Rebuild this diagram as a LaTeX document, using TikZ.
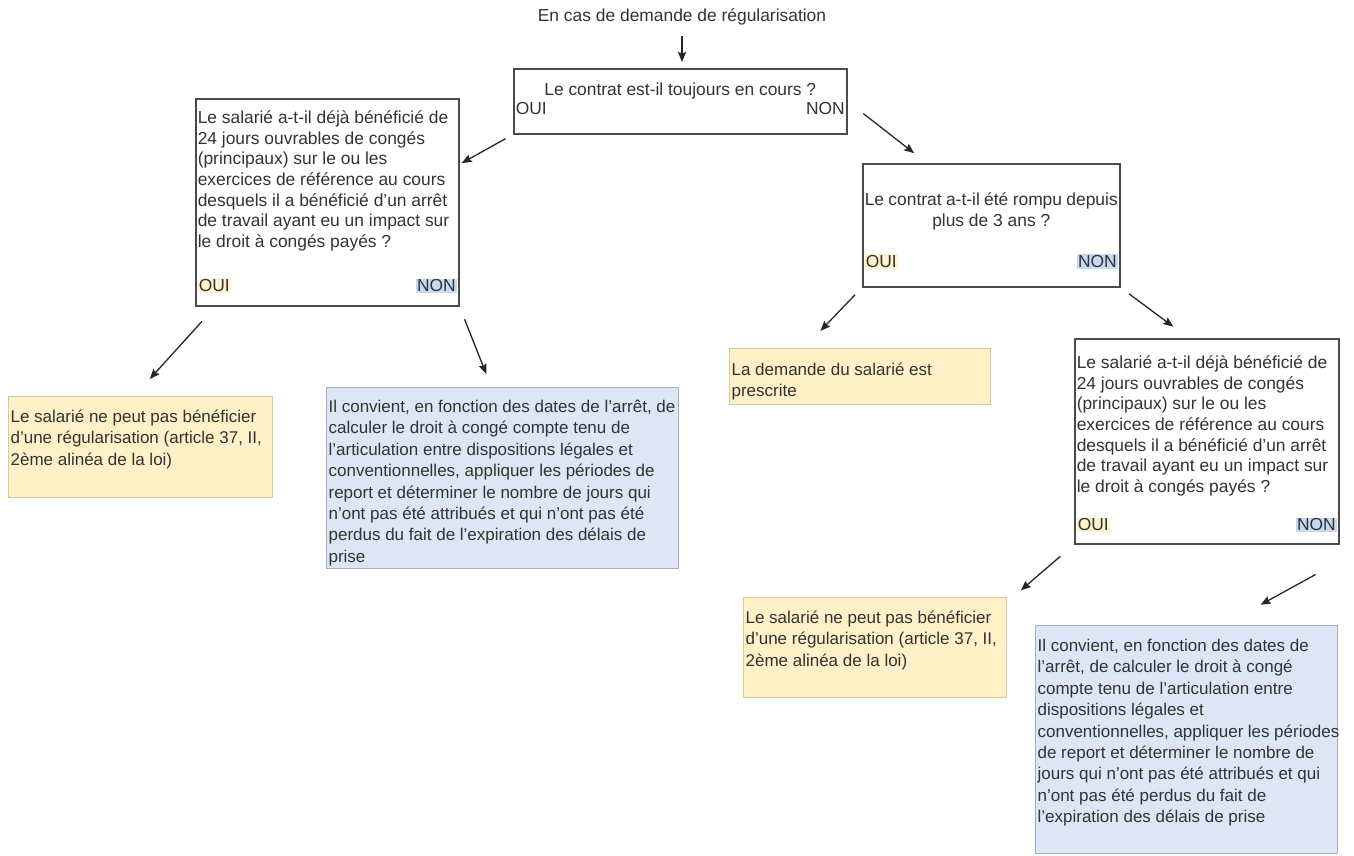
\documentclass[tikz,border=0pt]{standalone}
\usepackage{fontspec}
\setmainfont{Liberation Sans}
\usetikzlibrary{positioning,arrows.meta}

\definecolor{texte}{HTML}{333333}
\definecolor{trait}{HTML}{4A4A4A}
\definecolor{jaunefond}{HTML}{FFF0C8}
\definecolor{jaunebord}{HTML}{D8C99C}
\definecolor{bleufond}{HTML}{DCE6F4}
\definecolor{bleubord}{HTML}{A4AEBE}
\definecolor{ouifond}{HTML}{FFF2CC}
\definecolor{nonfond}{HTML}{C5D9F1}

\setlength{\fboxsep}{1pt}
\newcommand{\qfont}{\fontsize{17.4}{20.6}\selectfont}
\newcommand{\ifont}{\fontsize{17}{21.4}\selectfont}
\newcommand{\oui}{\colorbox{ouifond}{OUI}}
\newcommand{\non}{\colorbox{nonfond}{NON}}
\newcommand{\ouinon}[2]{\makebox[\linewidth]{#1\hfill#2}}
\newcommand{\boite}[4]{\parbox[t][#2][t]{#1}{\raggedright
  \rightskip=0pt plus 1fil minus 30pt
  \hyphenpenalty=10000\exhyphenpenalty=10000\vspace*{#3}\strut#4}}

\begin{document}
\begin{tikzpicture}[x=1pt, y=-1pt,
    question/.style={draw=trait, line width=1.5pt, fill=white, anchor=north west,
      inner xsep=2pt, inner ysep=0pt, text=texte, font=\qfont},
    jaune/.style={question, draw=jaunebord, fill=jaunefond, line width=1.2pt, font=\ifont},
    bleu/.style={question, draw=bleubord, fill=bleufond, line width=1.2pt, font=\ifont},
    fleche/.style={-{Stealth[length=10pt, width=8pt, inset=1.5pt]}, line width=1.3pt,
      draw=black!85}]
  \useasboundingbox (0,0) rectangle (1354,855);

  % questions
  \node[text=texte, font=\qfont, inner sep=0pt] (titre) at (682,17)
    {En cas de demande de régularisation};
  \node[question] (contrat) at (513,68)
    {\boite{329pt}{65pt}{12.6pt}{{\centering Le contrat est-il toujours en cours~?\par}
      \vspace{-1.6pt}\ouinon{OUI}{NON}}};
  \node[question] (salarieA) at (195,98)
    {\boite{259pt}{207pt}{10.6pt}{Le salarié a-t-il déjà bénéficié de\\
      24 jours ouvrables de congés\\
      (principaux) sur le ou les\\
      exercices de référence au cours\\
      desquels il a bénéficié d'un arrêt\\
      de travail ayant eu un impact sur\\
      le droit à congés payés~?\par\vspace{24pt}\ouinon{\oui}{\non}}};
  \node[question] (rompu) at (862,163)
    {\boite{253pt}{123pt}{27.6pt}{{\centering Le contrat a-t-il été rompu depuis\\
      plus de 3 ans~?\par}\vspace{20.6pt}\ouinon{\oui}{\non}}};
  \node[question] (salarieB) at (1074,338)
    {\boite{260pt}{205pt}{15.6pt}{Le salarié a-t-il déjà bénéficié de\\
      24 jours ouvrables de congés\\
      (principaux) sur le ou les\\
      exercices de référence au cours\\
      desquels il a bénéficié d'un arrêt\\
      de travail ayant eu un impact sur\\
      le droit à congés payés~?\par\vspace{17.8pt}\ouinon{\oui}{\non}}};

  % reponses
  \node[jaune] (jaune1) at (8,396)
    {\boite{260pt}{101pt}{11pt}{Le salarié ne peut pas bénéficier\\
      d'une régularisation (article 37, II,\\
      2ème alinéa de la loi)}};
  \node[bleu] (bleu1) at (326,387)
    {\boite{348pt}{181pt}{10pt}{Il convient, en fonction des dates de l'arrêt, de\\
      calculer le droit à congé compte tenu de\\
      l'articulation entre dispositions légales et\\
      conventionnelles, appliquer les périodes de\\
      report et déterminer le nombre de jours qui\\
      n'ont pas été attribués et qui n'ont pas été\\
      perdus du fait de l'expiration des délais de\\
      prise}};
  \node[jaune] (demande) at (729,348)
    {\boite{257pt}{56pt}{12pt}{La demande du salarié est\\
      prescrite}};
  \node[jaune] (jaune2) at (743,597)
    {\boite{259pt}{100pt}{11pt}{Le salarié ne peut pas bénéficier\\
      d'une régularisation (article 37, II,\\
      2ème alinéa de la loi)}};
  \node[bleu] (bleu2) at (1035,625)
    {\boite{298pt}{228pt}{11pt}{Il convient, en fonction des dates de\\
      l'arrêt, de calculer le droit à congé\\
      compte tenu de l'articulation entre\\
      dispositions légales et\\
      conventionnelles, appliquer les périodes\\
      de report et déterminer le nombre de\\
      jours qui n'ont pas été attribués et qui\\
      n'ont pas été perdus du fait de\\
      l'expiration des délais de prise}};

  % fleches
  \draw[fleche, shorten <=10.6pt, shorten >=6pt] (titre.south) -- (titre.south |- contrat.north);
  \draw[fleche, shorten <=8.5pt, shorten >=2.5pt] (contrat.south west) -- (salarieA.16);
  \draw[fleche, shorten <=20pt, shorten >=16pt] (contrat.east) -- (rompu.136);
  \draw[fleche, shorten <=20pt, shorten >=23pt] (salarieA.223) -- (jaune1.97);
  \draw[fleche, shorten <=13.6pt, shorten >=14pt] (salarieA.south east) -- (bleu1.97);
  \draw[fleche, shorten <=10pt, shorten >=23.7pt] (rompu.south west) -- (demande.153);
  \draw[fleche, shorten <=10.6pt, shorten >=19pt] (rompu.south east) -- (salarieB.100);
  \draw[fleche, shorten <=18pt, shorten >=18pt] (salarieB.south west) -- (jaune2.19);
  \coordinate[below left=30pt and 24pt of salarieB.south east] (nonB);
  \draw[fleche, shorten >=42pt] (nonB) -- (bleu2.72);
\end{tikzpicture}
\end{document}
